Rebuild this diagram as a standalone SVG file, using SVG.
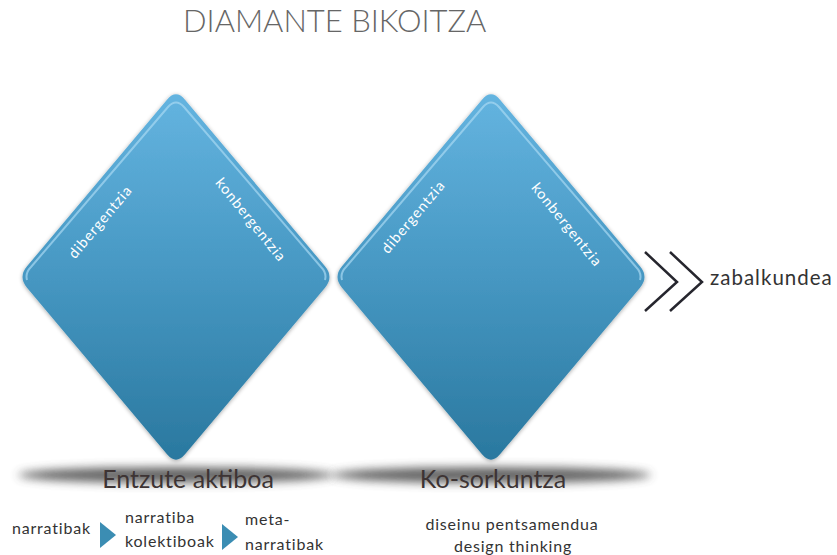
<svg xmlns="http://www.w3.org/2000/svg" width="837" height="555" viewBox="0 0 837 555">
  <defs>
    <linearGradient id="dg" x1="0" y1="0" x2="0" y2="1">
      <stop offset="0" stop-color="#64b4e0"/>
      <stop offset="0.5" stop-color="#4697c2"/>
      <stop offset="1" stop-color="#2a789f"/>
    </linearGradient>
    <filter id="blur" x="-20%" y="-200%" width="140%" height="500%">
      <feGaussianBlur stdDeviation="5"/>
    </filter>
    <filter id="ds" x="-10%" y="-10%" width="120%" height="120%">
      <feGaussianBlur in="SourceAlpha" stdDeviation="2"/>
      <feOffset dx="0" dy="1" result="o"/>
      <feComponentTransfer><feFuncA type="linear" slope="0.35"/></feComponentTransfer>
      <feMerge><feMergeNode/><feMergeNode in="SourceGraphic"/></feMerge>
    </filter>
    <path id="dia" d="M 9,-177.3 L 149,-10.7 Q 158,0 149,10.7 L 9,177.3 Q 0,188 -9,177.3 L -149,10.7 Q -158,0 -149,-10.7 L -9,-177.3 Q 0,-188 9,-177.3 Z"/>
    <path id="hl" d="M -149,3 Q -151,-4 -145,-10 L -8,-170 Q 0,-179 8,-170 L 145,-10 Q 151,-4 149,3"/>
  </defs>
  <style>
    .title{font-family:Lato,"Liberation Sans",sans-serif;font-weight:300;font-size:31px;fill:#666666}
    .rot{font-family:Lato,"Liberation Sans",sans-serif;font-size:14.5px;fill:#ffffff;text-anchor:middle;letter-spacing:1px}
    .lbl{font-family:Lato,"Liberation Sans",sans-serif;font-size:25px;fill:#3d3434;text-anchor:middle}
    .sm{font-family:Lato,"Liberation Sans",sans-serif;font-size:16px;fill:#333333;letter-spacing:0.8px}
    .smc{font-family:Lato,"Liberation Sans",sans-serif;font-size:16px;fill:#333333;text-anchor:middle;letter-spacing:0.8px}
    .out{font-family:Lato,"Liberation Sans",sans-serif;font-size:20.5px;fill:#333333;letter-spacing:1px}
    .shd{fill:#4a4a4a;filter:url(#blur);opacity:0.85}
    .hl{fill:none;stroke:#a8d8f2;stroke-width:2;opacity:0.7}
    .chev{fill:none;stroke:#26262e;stroke-width:2.5}
    .tri{fill:#3b8db3}
  </style>
  <rect width="837" height="555" fill="#ffffff"/>
  <text class="title" x="183" y="32">DIAMANTE BIKOITZA</text>

  <g id="shadows">
    <ellipse class="shd" cx="176" cy="475" rx="158" ry="8"/>
    <ellipse class="shd" cx="491" cy="475" rx="160" ry="8"/>
  </g>

  <g id="diamond1" transform="translate(176,277)">
    <use href="#dia" fill="url(#dg)" filter="url(#ds)"/>
    <use href="#hl" class="hl"/>
    <text class="rot" transform="translate(-72,-52) rotate(-50)">dibergentzia</text>
    <text class="rot" transform="translate(71,-54) rotate(51)">konbergentzia</text>
  </g>
  <g id="diamond2" transform="translate(491,277)">
    <use href="#dia" fill="url(#dg)" filter="url(#ds)"/>
    <use href="#hl" class="hl"/>
    <text class="rot" transform="translate(-74,-57) rotate(-50)">dibergentzia</text>
    <text class="rot" transform="translate(72,-49) rotate(51)">konbergentzia</text>
  </g>

  <g id="label1"><text class="lbl" x="188" y="488">Entzute aktiboa</text></g>
  <g id="label2"><text class="lbl" x="493" y="488">Ko-sorkuntza</text></g>

  <g id="connectors">
    <polyline class="chev" points="645,252 677,282 645,311"/>
    <polyline class="chev" points="670,252 702,282 670,311"/>
    <polygon class="tri" points="100,522 116,535 100,548"/>
    <polygon class="tri" points="222,524 238,537 222,550"/>
  </g>

  <g id="out"><text class="out" x="710" y="285">zabalkundea</text></g>

  <g id="steps">
    <text class="sm" x="12" y="534">narratibak</text>
    <text class="sm" x="125" y="523">narratiba</text>
    <text class="sm" x="125" y="547">kolektiboak</text>
    <text class="sm" x="245" y="525">meta-</text>
    <text class="sm" x="245" y="550">narratibak</text>
  </g>
  <g id="design">
    <text class="smc" x="512" y="530">diseinu pentsamendua</text>
    <text class="smc" x="513" y="552">design thinking</text>
  </g>
</svg>
